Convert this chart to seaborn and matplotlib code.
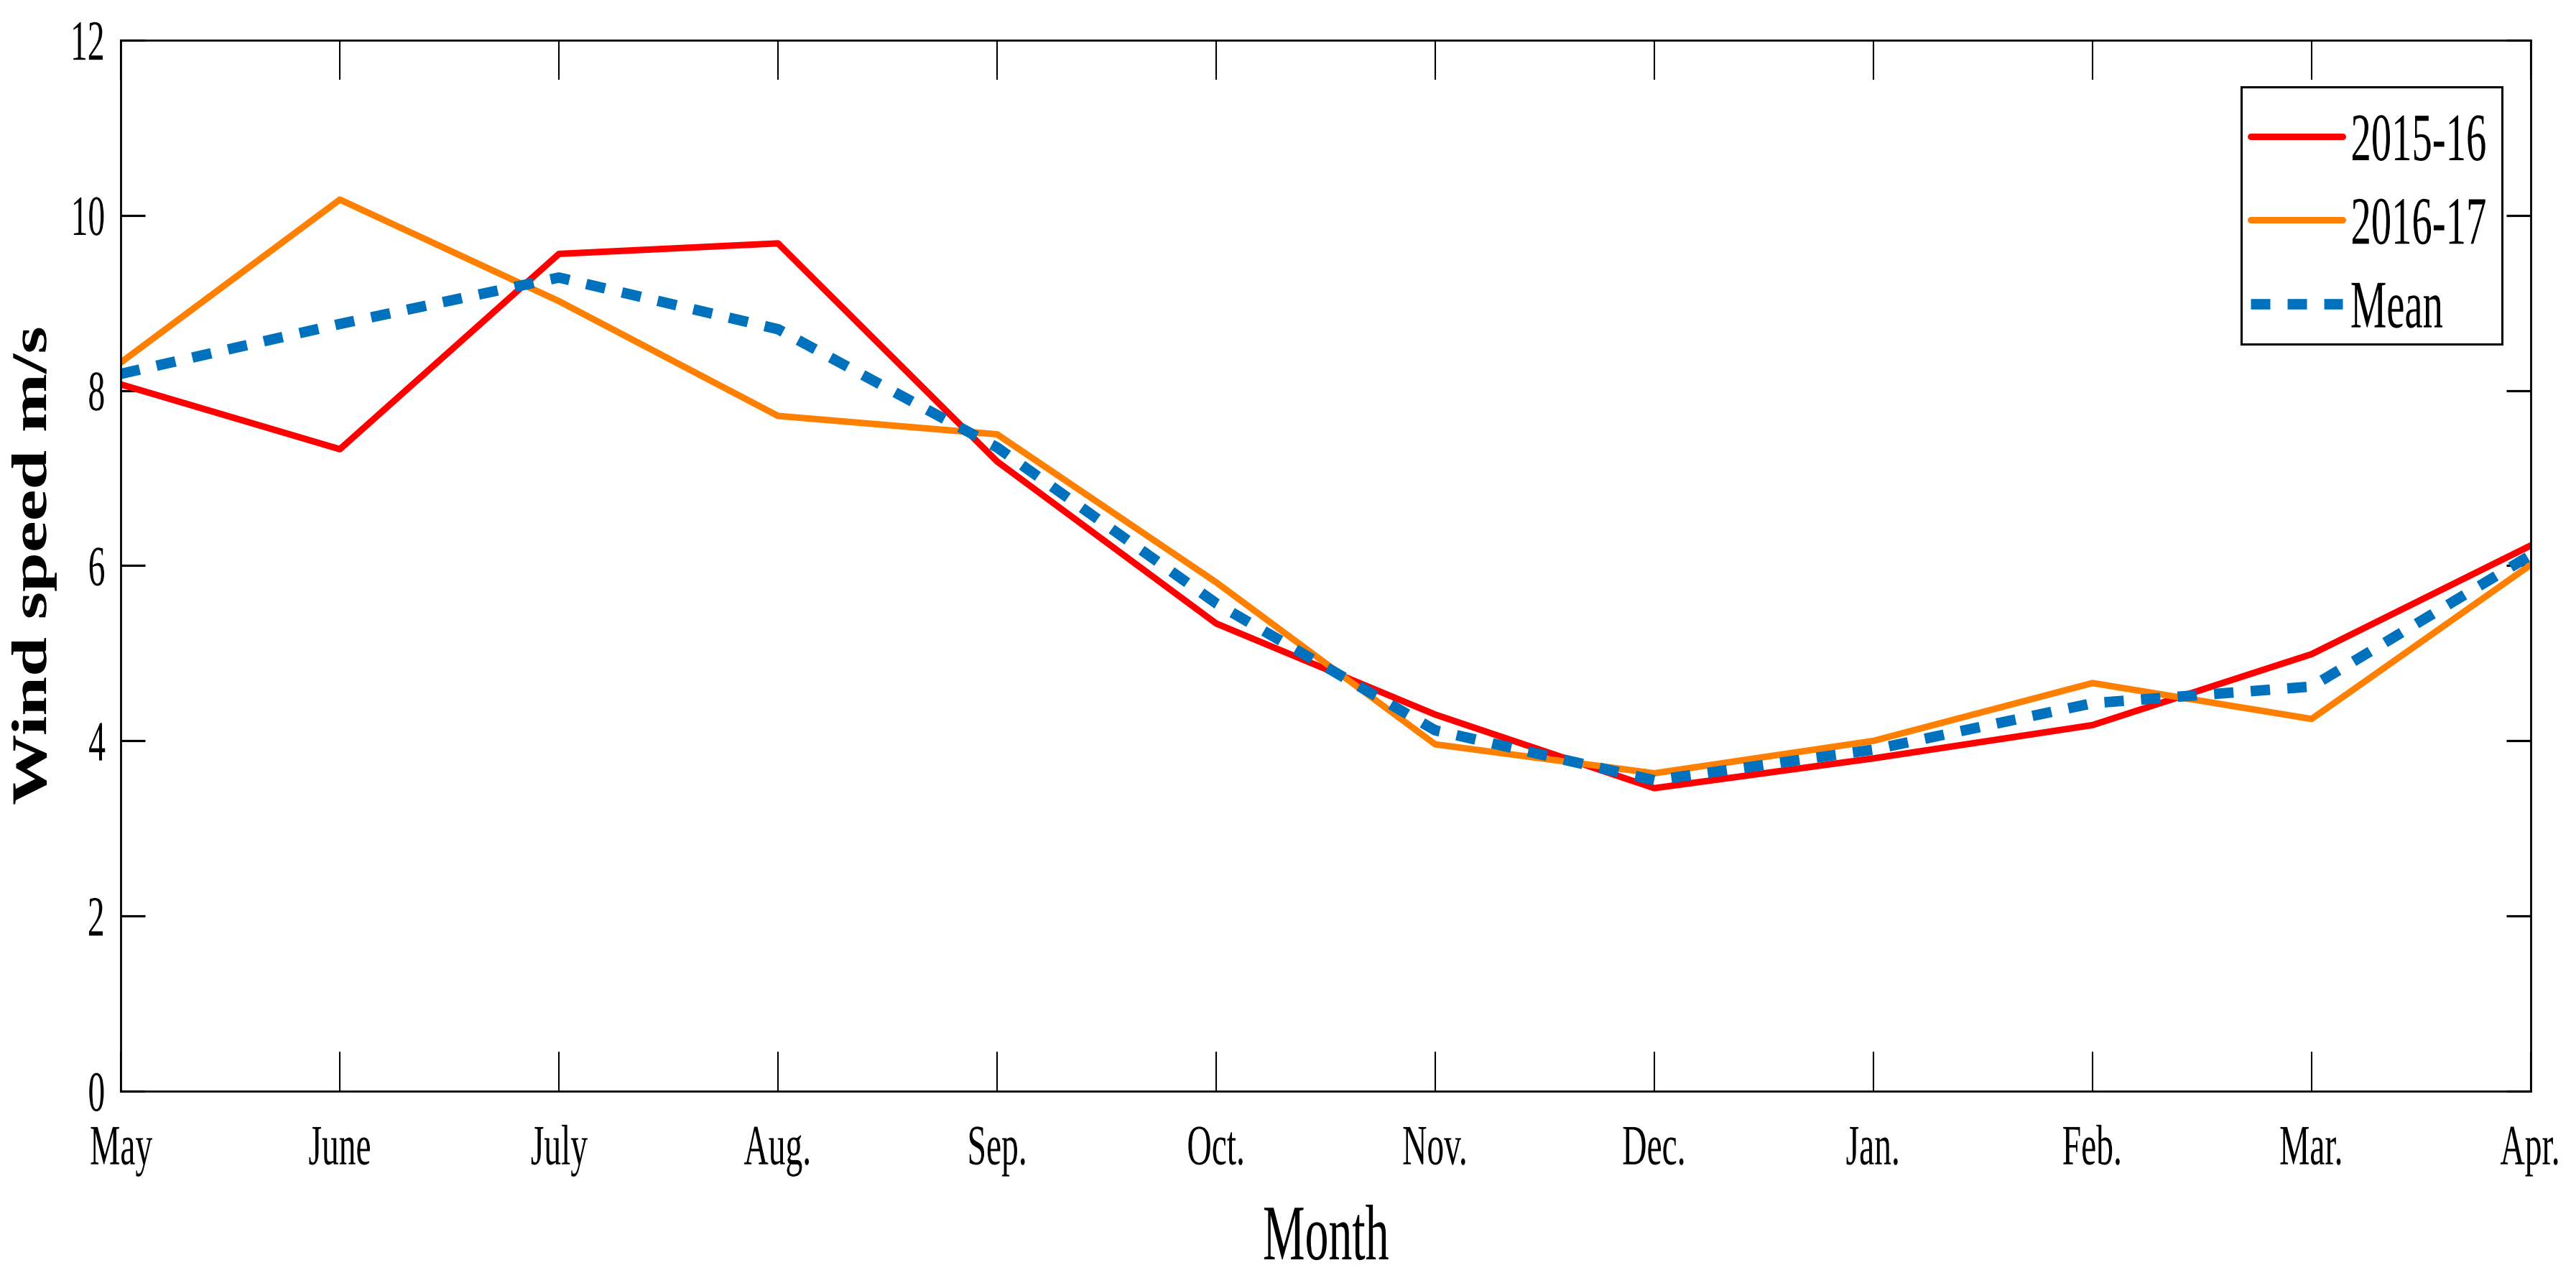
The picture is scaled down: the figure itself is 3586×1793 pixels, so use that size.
import matplotlib
matplotlib.use("Agg")
import matplotlib.pyplot as plt
import seaborn as sns
from matplotlib.patheffects import AbstractPathEffect
from matplotlib.patches import Rectangle
from matplotlib.transforms import Affine2D

months = ["May", "June", "July", "Aug.", "Sep.", "Oct.", "Nov.", "Dec.",
          "Jan.", "Feb.", "Mar.", "Apr."]
ws_2015_16 = [8.07, 7.33, 9.56, 9.68, 7.19, 5.34, 4.30, 3.46, 3.80, 4.18, 4.99, 6.23]
ws_2016_17 = [8.32, 10.18, 9.02, 7.71, 7.50, 5.81, 3.96, 3.63, 4.00, 4.66, 4.25, 6.01]
ws_mean = [8.19, 8.76, 9.29, 8.70, 7.35, 5.57, 4.12, 3.55, 3.90, 4.43, 4.62, 6.12]
y_ticks = [0, 2, 4, 6, 8, 10, 12]


class Squeeze(AbstractPathEffect):
    """Draw text narrower (or wider) along its own baseline."""

    def __init__(self, sx, anchor=0.5):
        super().__init__()
        self.sx = sx
        self.anchor = anchor

    def draw_path(self, renderer, gc, tpath, affine, rgbFace=None):
        ext = tpath.get_extents()
        x0 = ext.x0 + self.anchor * ext.width
        sq = Affine2D().translate(-x0, 0).scale(self.sx, 1).translate(x0, 0)
        renderer.draw_path(gc, tpath, sq + affine, rgbFace)


sns.set_style("white")
plt.rcParams["font.family"] = ["Liberation Serif", "DejaVu Serif"]
plt.rcParams["text.color"] = "black"
plt.rcParams["axes.labelcolor"] = "black"

fig = plt.figure(figsize=(35.86, 17.93), dpi=100)
ax = fig.add_axes([0.0469, 0.1528, 0.9355, 0.8160])

sns.lineplot(x=months, y=ws_2015_16, ax=ax, color="#FF0000", linewidth=6.5,
             label="2015-16", sort=False)
sns.lineplot(x=months, y=ws_2016_17, ax=ax, color="#FF8000", linewidth=6.5,
             label="2016-17", sort=False)
sns.lineplot(x=months, y=ws_mean, ax=ax, color="#0072BD", linewidth=10.5,
             label="Mean", sort=False)
ax.lines[-1].set_dashes([1.85, 1.65])
ax.lines[-1].set_dash_capstyle("butt")

ax.set_xlim(0, len(months) - 1)
ax.set_ylim(0, 12)
ax.set_yticks(y_ticks)

for sp in ax.spines.values():
    sp.set_visible(True)
    sp.set_color("black")
    sp.set_linewidth(2.0)

ax.tick_params(axis="x", direction="in", top=True, bottom=True, length=39.6,
               width=1.5, pad=34, labelsize=57, colors="black")
ax.tick_params(axis="y", direction="in", left=True, right=True, length=24.5,
               width=2.3, pad=15, labelsize=57, colors="black")

for lbl in ax.get_xticklabels():
    lbl.set_path_effects([Squeeze(0.6, 0.5)])
for lbl in ax.get_yticklabels():
    lbl.set_path_effects([Squeeze(0.6, 1.0)])

xl = ax.set_xlabel("Month", fontsize=79, va="baseline", color="black")
ax.xaxis.set_label_coords(0.5, -0.160)
xl.set_path_effects([Squeeze(0.6, 0.5)])

yl = ax.set_ylabel("Wind speed m/s", fontsize=50, fontweight="bold",
                   va="center", color="black")
ax.yaxis.set_label_coords(-0.0361, 0.5)
yl.set_path_effects([Squeeze(1.42, 0.5)])

# legend box drawn separately so the narrowed text fits it
ax.add_patch(Rectangle((0.880, 0.711), 0.108, 0.2446, transform=ax.transAxes,
                       facecolor="white", edgecolor="black", linewidth=2.2,
                       zorder=4.5))
leg = ax.legend(loc="upper left", bbox_to_anchor=(0.8837, 0.931), frameon=False,
                fontsize=68, handlelength=1.356, handletextpad=0.106,
                labelspacing=0.32, borderpad=0, borderaxespad=0)
leg.set_zorder(5)
for t in leg.get_texts():
    t.set_color("black")
    t.set_path_effects([Squeeze(0.6, 0.0)])

fig.savefig("out.png", dpi=100)
